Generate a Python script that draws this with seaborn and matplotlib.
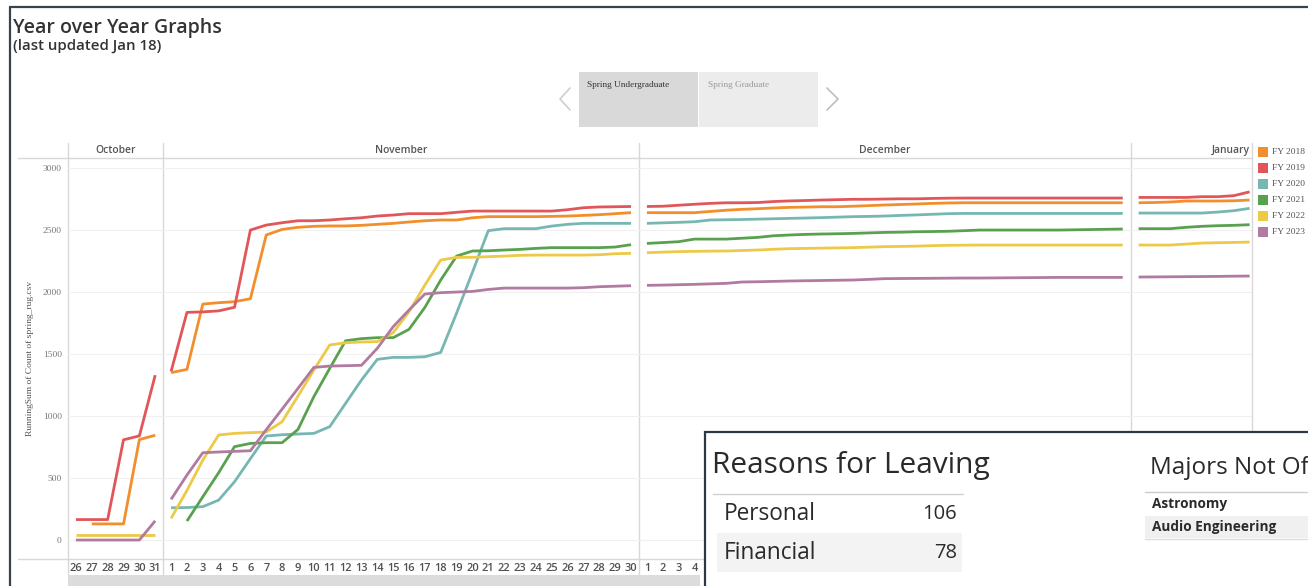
import numpy as np
import pandas as pd
import matplotlib
matplotlib.use("Agg")
import matplotlib.pyplot as plt
import matplotlib.transforms as mtransforms
from matplotlib.lines import Line2D
from matplotlib.patches import Rectangle
import seaborn as sns

W, H = 1308, 586
N = None

# ---------------- data ----------------
month_names = ["October", "November", "December", "January"]
oct_days = [26, 27, 28, 29, 30, 31]
nov_days = list(range(1, 31))
dec_days = list(range(1, 32))
jan_days = list(range(1, 9))

fy_labels = ["FY 2018", "FY 2019", "FY 2020", "FY 2021", "FY 2022", "FY 2023"]
fy_colors = ["#f28e2b", "#e15759", "#76b7b2", "#59a14f", "#edc948", "#b07aa1"]

fy2018_oct = [N, 130, 130, 130, 810, 845]
fy2018_nov = [1350, 1376, 1903, 1914, 1922, 1946, 2460, 2505, 2522, 2530, 2533, 2533, 2538, 2546, 2554,
              2565, 2575, 2581, 2581, 2599, 2608, 2608, 2608, 2608, 2610, 2613, 2618, 2624, 2632, 2640]
fy2018_dec = [2640, 2640, 2640, 2640, 2650, 2660, 2667, 2672, 2678, 2683, 2685, 2688, 2688, 2692, 2697, 2702,
              2706, 2710, 2715, 2718, 2720, 2720, 2720, 2720, 2720, 2720, 2720, 2720, 2720, 2720, 2720]
fy2018_jan = [2720, 2722, 2726, 2734, 2734, 2734, 2736, 2742]

fy2019_oct = [165, 165, 165, 808, 840, 1330]
fy2019_nov = [1360, 1836, 1840, 1848, 1877, 2500, 2540, 2559, 2575, 2575, 2581, 2591, 2599, 2613, 2621,
              2632, 2632, 2632, 2643, 2653, 2653, 2653, 2653, 2653, 2653, 2664, 2680, 2686, 2688, 2690]
fy2019_dec = [2690, 2692, 2700, 2708, 2715, 2720, 2720, 2722, 2730, 2735, 2738, 2742, 2745, 2748, 2748, 2750,
              2752, 2752, 2755, 2757, 2758, 2758, 2758, 2758, 2758, 2758, 2758, 2758, 2758, 2758, 2758]
fy2019_jan = [2763, 2763, 2763, 2763, 2769, 2769, 2777, 2808]

fy2020_oct = [N, N, N, N, N, N]
fy2020_nov = [260, 262, 269, 322, 470, 656, 839, 849, 855, 860, 914, 1102, 1290, 1457, 1473,
              1473, 1478, 1513, 1830, 2160, 2495, 2511, 2511, 2511, 2532, 2546, 2554, 2554, 2554, 2554]
fy2020_dec = [2554, 2558, 2562, 2567, 2581, 2583, 2585, 2588, 2591, 2594, 2597, 2600, 2604, 2608, 2610, 2613,
              2618, 2622, 2627, 2632, 2634, 2634, 2634, 2634, 2634, 2634, 2634, 2634, 2634, 2634, 2634]
fy2020_jan = [2637, 2637, 2637, 2637, 2637, 2645, 2656, 2675]

fy2021_oct = [N, N, N, N, N, N]
fy2021_nov = [N, 153, 349, 543, 753, 779, 785, 785, 892, 1156, 1384, 1607, 1624, 1632, 1632,
              1699, 1876, 2097, 2290, 2331, 2333, 2339, 2344, 2352, 2358, 2358, 2358, 2358, 2363, 2382]
fy2021_dec = [2392, 2399, 2406, 2427, 2427, 2427, 2434, 2441, 2454, 2460, 2465, 2468, 2470, 2473, 2477, 2481,
              2483, 2486, 2488, 2490, 2495, 2500, 2500, 2500, 2500, 2500, 2500, 2502, 2504, 2506, 2508]
fy2021_jan = [2511, 2511, 2511, 2522, 2530, 2535, 2538, 2543]

fy2022_oct = [40, 40, 40, 40, 40, 40]
fy2022_nov = [175, 400, 645, 847, 860, 866, 871, 954, 1161, 1371, 1573, 1591, 1597, 1600, 1672,
              1841, 2056, 2258, 2280, 2280, 2285, 2290, 2296, 2298, 2298, 2298, 2298, 2301, 2309, 2312]
fy2022_dec = [2317, 2322, 2326, 2328, 2330, 2331, 2335, 2339, 2345, 2350, 2352, 2354, 2356, 2358, 2362, 2366,
              2368, 2370, 2374, 2377, 2378, 2379, 2379, 2379, 2379, 2379, 2379, 2379, 2379, 2379, 2379]
fy2022_jan = [2379, 2379, 2379, 2387, 2395, 2398, 2400, 2403]

fy2023_oct = [0, 0, 0, 0, 0, 155]
fy2023_nov = [328, 524, 704, 710, 715, 720, 890, 1056, 1223, 1392, 1403, 1406, 1409, 1546, 1720,
              1855, 1984, 1995, 2000, 2005, 2021, 2032, 2032, 2032, 2032, 2032, 2035, 2043, 2047, 2051]
fy2023_dec = [2054, 2056, 2059, 2062, 2066, 2070, 2081, 2083, 2086, 2089, 2091, 2093, 2095, 2097, 2102, 2108,
              2109, 2110, 2111, 2112, 2113, 2113, 2114, 2115, 2116, 2117, 2118, 2118, 2118, 2118, 2118]
fy2023_jan = [2121, 2122, 2123, 2124, 2125, 2126, 2128, 2129]

y_ticks = [0, 500, 1000, 1500, 2000, 2500, 3000]
y_title = "RunningSum of Count of spring_rug.csv"
tab_labels = ["Spring Undergraduate", "Spring Graduate"]
reason_labels = ["Personal", "Financial"]
reason_counts = [106, 78]
major_labels = ["Astronomy", "Audio Engineering"]

# ---------------- build table ----------------
month_days = [oct_days, nov_days, dec_days, jan_days]
month_offsets = [0, 6, 36, 67]
series = {
    "FY 2018": [fy2018_oct, fy2018_nov, fy2018_dec, fy2018_jan],
    "FY 2019": [fy2019_oct, fy2019_nov, fy2019_dec, fy2019_jan],
    "FY 2020": [fy2020_oct, fy2020_nov, fy2020_dec, fy2020_jan],
    "FY 2021": [fy2021_oct, fy2021_nov, fy2021_dec, fy2021_jan],
    "FY 2022": [fy2022_oct, fy2022_nov, fy2022_dec, fy2022_jan],
    "FY 2023": [fy2023_oct, fy2023_nov, fy2023_dec, fy2023_jan],
}
rows = []
for fy, parts in series.items():
    for mname, off, vals in zip(month_names, month_offsets, parts):
        for i, v in enumerate(vals):
            if v is not None:
                rows.append({"FY": fy, "month": mname, "pos": off + i + 0.5, "value": v})
df = pd.DataFrame(rows)

# ---------------- figure ----------------
sns.set_theme(style="white")
plt.rcParams["font.family"] = ["Open Sans", "DejaVu Sans"]
SERIF = ["Liberation Serif", "DejaVu Serif"]

fig = plt.figure(figsize=(W / 100, H / 100), dpi=100)
fig.patch.set_facecolor("white")


def fx(x):
    return x / W


def fy(y):
    return 1 - y / H


def hline(x0, x1, y, color, lw=1.0, z=1):
    fig.add_artist(Line2D([fx(x0), fx(x1)], [fy(y), fy(y)], color=color, lw=lw, zorder=z))


def vline(x, y0, y1, color, lw=1.0, z=1):
    fig.add_artist(Line2D([fx(x), fx(x)], [fy(y0), fy(y1)], color=color, lw=lw, zorder=z))


ax_left, ax_right, ax_top, ax_bottom = 68, 1252, 158, 559
ax = fig.add_axes([fx(ax_left), fy(ax_bottom), (ax_right - ax_left) / W, (ax_bottom - ax_top) / H])
ax.set_facecolor("none")

sns.lineplot(data=df, x="pos", y="value", hue="FY", units="month", estimator=None,
             palette=dict(zip(fy_labels, fy_colors)), hue_order=fy_labels,
             linewidth=2.0, legend=False, ax=ax, sort=True)
for ln in ax.lines:
    ln.set_solid_joinstyle("round")
    ln.set_solid_capstyle("butt")

ax.set_xlim(0, 74.65)
ax.set_ylim(-153, 3081)
ax.set_xlabel("")
ax.set_ylabel("")
for s in ax.spines.values():
    s.set_visible(False)

xpos, xlab = [], []
for days, off in zip(month_days, month_offsets):
    for i, d in enumerate(days):
        xpos.append(off + i + 0.5)
        xlab.append(str(d))
ax.set_xticks(xpos)
ax.set_xticklabels(xlab, fontsize=7.9, color="#505050", fontweight="semibold")
ax.set_yticks(y_ticks)
ax.set_yticklabels([str(t) for t in y_ticks], fontsize=6.8, color="#777777", family=SERIF)
ax.tick_params(axis="x", length=0, pad=3.2)
ax.tick_params(axis="y", length=0, pad=4.5)
ax.grid(axis="y", color="#f0f0f0", lw=0.8)
ax.grid(axis="x", visible=False)

# month separators & header
bt = mtransforms.blended_transform_factory(ax.transData, fig.transFigure)
for b in [0, 6, 36, 67]:
    ax.add_artist(Line2D([b, b], [fy(143), fy(575)], transform=bt, color="#d8d8d8", lw=1.0,
                         clip_on=False, zorder=0.5))
vline(1252, 143, 575, "#d8d8d8")
hline(18, 1252, 158, "#d8d8d8")
hline(18, 1252, 559, "#d8d8d8")

ax.text(3, fy(150.5), "October", transform=bt, ha="center", va="center", fontsize=7.4,
        fontweight="semibold", color="#555555")
ax.text(21, fy(150.5), "November", transform=bt, ha="center", va="center", fontsize=7.4,
        fontweight="semibold", color="#555555")
ax.text(51.5, fy(150.5), "December", transform=bt, ha="center", va="center", fontsize=7.4,
        fontweight="semibold", color="#555555")
fig.text(fx(1250), fy(150.5), "January", ha="right", va="center", fontsize=7.4,
         fontweight="semibold", color="#555555")

fig.text(fx(30), fy(358), y_title, rotation=90, ha="center", va="center", fontsize=6.8,
         color="#555555", family=SERIF)

# scrollbar
fig.add_artist(Rectangle((fx(68), fy(586)), fx(700 - 68), (586 - 575) / H, facecolor="#dcdcdc",
                         edgecolor="none", zorder=2))

# legend
for i, (lab, col) in enumerate(zip(fy_labels, fy_colors)):
    yc = 152 + i * 16
    fig.add_artist(Rectangle((fx(1257.5), fy(yc + 5)), 10.5 / W, 10 / H, facecolor=col,
                             edgecolor="none", zorder=3))
    fig.text(fx(1272), fy(yc), lab, ha="left", va="center", fontsize=6.8, color="#555555", family=SERIF)

# title
fig.text(fx(13), fy(28), "Year over Year Graphs", ha="left", va="center", fontsize=14,
         fontweight="semibold", color="#333333")
fig.text(fx(13), fy(46), "(last updated Jan 18)", ha="left", va="center", fontsize=10.8,
         fontweight="semibold", color="#333333")

# dashboard border
hline(10, 1308, 7, "#39434d", lw=1.6, z=5)
vline(10, 7, 586, "#39434d", lw=1.6, z=5)

# tabs
fig.add_artist(Rectangle((fx(578.5), fy(127)), 119.5 / W, 55 / H, facecolor="#d9d9d9", edgecolor="none"))
fig.add_artist(Rectangle((fx(699.5), fy(127)), 119 / W, 55 / H, facecolor="#ececec", edgecolor="none"))
fig.text(fx(587), fy(85), tab_labels[0], ha="left", va="center", fontsize=6.7, color="#333333", family=SERIF)
fig.text(fx(708), fy(85), tab_labels[1], ha="left", va="center", fontsize=6.7, color="#9a9a9a", family=SERIF)
fig.add_artist(Line2D([fx(570), fx(560), fx(570)], [fy(88), fy(99), fy(110)], color="#cfcfcf", lw=1.2))
fig.add_artist(Line2D([fx(827), fx(838), fx(827)], [fy(88), fy(99), fy(110)], color="#bdbdbd", lw=1.2))

# overlay panel
fig.add_artist(Rectangle((fx(705), fy(592)), (1320 - 705) / W, (592 - 432) / H, facecolor="white",
                         edgecolor="#2e3842", lw=1.6, zorder=10))
fig.text(fx(712), fy(465), "Reasons for Leaving", ha="left", va="center", fontsize=21.5,
         color="#2a2a2a", zorder=11)
hline(713, 963, 494, "#d0d0d0", z=11)
fig.add_artist(Rectangle((fx(717), fy(572)), (962 - 717) / W, 39 / H, facecolor="#f3f3f3",
                         edgecolor="none", zorder=10.5))
for i, (lab, cnt) in enumerate(zip(reason_labels, reason_counts)):
    yc = 514 + i * 39
    fig.text(fx(724), fy(yc), lab, ha="left", va="center", fontsize=16.3, color="#2a2a2a", zorder=11)
    fig.text(fx(957), fy(yc), str(cnt), ha="right", va="center", fontsize=14.5, color="#2a2a2a", zorder=11)

fig.text(fx(1150), fy(468), "Majors Not Of", ha="left", va="center", fontsize=17.5, color="#2a2a2a", zorder=11)
hline(1145, 1308, 492, "#cccccc", z=11)
fig.add_artist(Rectangle((fx(1145), fy(538)), (1308 - 1145) / W, 22 / H, facecolor="#f0f0f0",
                         edgecolor="none", zorder=10.5))
hline(1145, 1308, 539, "#dddddd", z=11)
for i, lab in enumerate(major_labels):
    fig.text(fx(1152), fy(504 + i * 23), lab, ha="left", va="center", fontsize=9.8,
             fontweight="bold", color="#2a2a2a", zorder=11)

fig.savefig("out.png", dpi=100, facecolor="white")
